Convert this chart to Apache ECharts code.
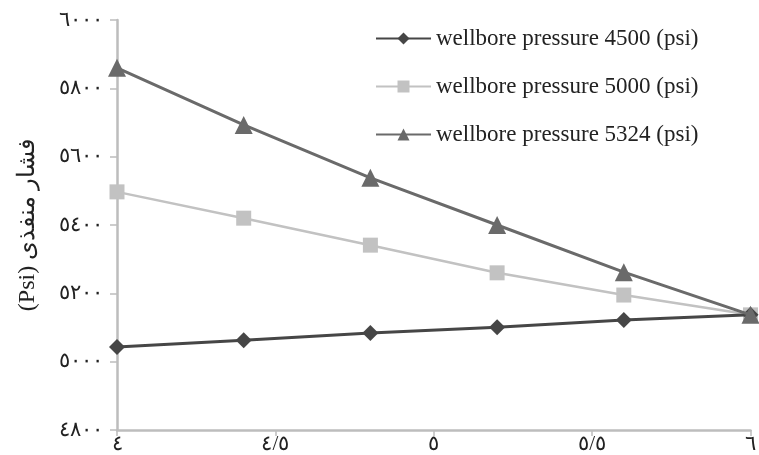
<!DOCTYPE html>
<html>
<head>
<meta charset="utf-8">
<script src="https://cdn.jsdelivr.net/npm/echarts@6/dist/echarts.min.js"></script>
<style>html,body{margin:0;padding:0;background:#fff;}#c{width:759px;height:455px;}</style>
</head>
<body>
<div id="c"></div>
<script>
var xValues = [4, 4.4, 4.8, 5.2, 5.6, 6];
var seriesNames = ['wellbore pressure 4500 (psi)', 'wellbore pressure 5000 (psi)', 'wellbore pressure 5324 (psi)'];
var p4500 = [5043, 5063, 5084, 5101, 5122, 5137];
var p5000 = [5497, 5420, 5341, 5260, 5195, 5137];
var p5324 = [5860, 5693, 5538, 5400, 5262, 5137];
var yTitle = '(Psi) فشار منفذی';

function toAr(v) {
  return String(v).replace('.', '/').replace(/\d/g, function (d) { return '٠١٢٣٤٥٦٧٨٩'[+d]; });
}
function pairs(ys) { return xValues.map(function (x, i) { return [x, ys[i]]; }); }

var font = '"Liberation Serif", "Times New Roman", "DejaVu Serif", serif';
var chart = echarts.init(document.getElementById('c'));
chart.setOption({
  animation: false,
  backgroundColor: '#fff',
  grid: { left: 117, right: 7, top: 20, bottom: 25, containLabel: false },
  legend: {
    orient: 'vertical', left: 370, top: 22,
    itemWidth: 55, itemHeight: 15, itemGap: 25,
    textStyle: { fontFamily: font, fontSize: 23, color: '#222' },
    data: seriesNames
  },
  xAxis: {
    type: 'value', min: 4, max: 6, interval: 0.5,
    axisLine: { show: true, lineStyle: { color: '#bdbdbd', width: 2.5 } },
    axisTick: { show: true, length: 6, lineStyle: { color: '#bdbdbd', width: 1.5 } },
    splitLine: { show: false },
    axisLabel: { formatter: toAr, fontFamily: font, fontSize: 21, color: '#222', margin: 4 }
  },
  yAxis: {
    type: 'value', min: 4800, max: 6000, interval: 200,
    name: yTitle, nameLocation: 'middle', nameRotate: 90, nameGap: 77,
    nameTextStyle: { fontFamily: font, fontSize: 24, color: '#222' },
    axisLine: { show: true, lineStyle: { color: '#bdbdbd', width: 2.5 } },
    axisTick: { show: true, length: 7, lineStyle: { color: '#bdbdbd', width: 1.5 } },
    splitLine: { show: false },
    axisLabel: { formatter: toAr, fontFamily: font, fontSize: 21, color: '#222', margin: 14 }
  },
  series: [
    { name: seriesNames[0], type: 'line', data: pairs(p4500), symbol: 'diamond', symbolSize: 16,
      lineStyle: { color: '#464646', width: 3 }, itemStyle: { color: '#464646' }, z: 3 },
    { name: seriesNames[1], type: 'line', data: pairs(p5000), symbol: 'rect', symbolSize: 15,
      lineStyle: { color: '#c2c2c2', width: 2.5 }, itemStyle: { color: '#c2c2c2' }, z: 2 },
    { name: seriesNames[2], type: 'line', data: pairs(p5324), symbol: 'triangle', symbolSize: 18,
      lineStyle: { color: '#6a6a6a', width: 3 }, itemStyle: { color: '#6a6a6a' }, z: 4 }
  ]
});
</script>
</body>
</html>
